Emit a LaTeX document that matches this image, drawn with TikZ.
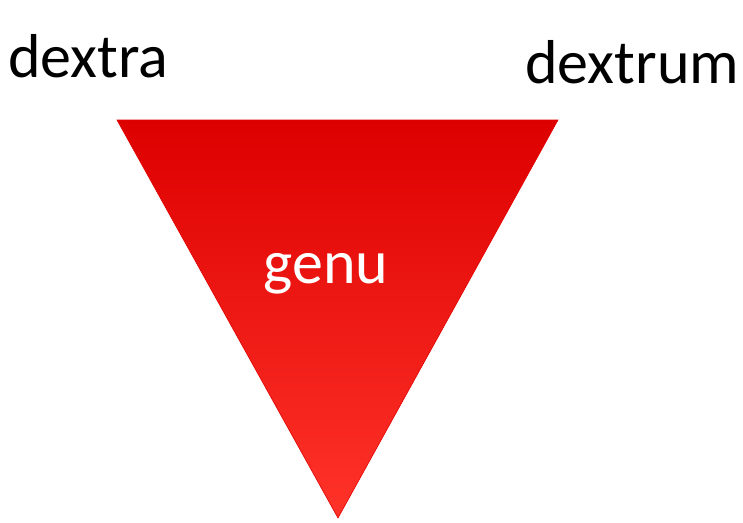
\documentclass[tikz,border=0pt]{standalone}
\usepackage{fontspec}
\setmainfont{Carlito}
\usepackage{tikz}
\definecolor{topred}{HTML}{DD0000}
\definecolor{botred}{HTML}{FF3329}
\tikzstyle{wordsty}=[font=\fontsize{62}{74}\selectfont, inner sep=0pt]
\tikzstyle{cornersty}=[wordsty, anchor=base west, text=black]
\tikzstyle{tri}=[top color=topred, bottom color=botred, draw=red!90!black, line width=0.6pt, line join=miter]

\begin{document}
\begin{tikzpicture}[x=1pt,y=-1pt]
				\useasboundingbox (0,0) rectangle (743,522);
				\coordinate (tl) at (117,120);
				\coordinate (tr) at (558,120);
				\coordinate (ap) at (338,518);
				
				\path[tri] (tl) -- (tr) -- (ap) -- cycle;
				\node[cornersty] (dextra) at (8,77) {dextra};
				\node[cornersty] (dextrum) at (525,83) {dextrum};
				\node[wordsty, text=white, anchor=base] (genu) at (326,283) {genu};
			\end{tikzpicture}
\end{document}
